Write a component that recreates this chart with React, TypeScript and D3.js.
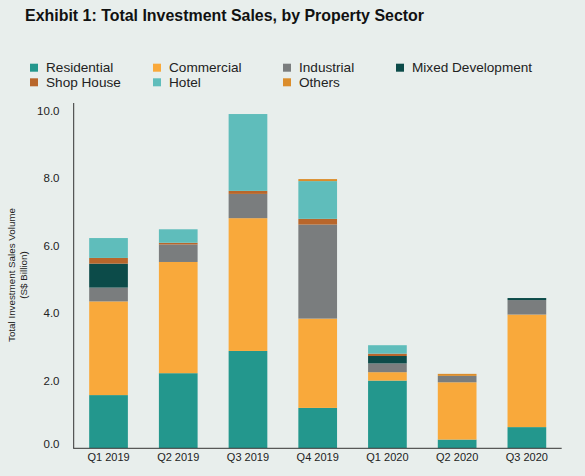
import React from "react";
import * as d3 from "d3";

const categories = ["Q1 2019", "Q2 2019", "Q3 2019", "Q4 2019", "Q1 2020", "Q2 2020", "Q3 2020"];
const seriesNames = ["Residential", "Commercial", "Industrial", "Mixed Development", "Shop House", "Hotel", "Others"];
const residential = [1.57, 2.22, 2.88, 1.19, 2.0, 0.25, 0.62];
const commercial = [2.78, 3.3, 3.94, 2.65, 0.25, 1.7, 3.34];
const industrial = [0.41, 0.52, 0.72, 2.79, 0.26, 0.19, 0.43];
const mixedDevelopment = [0.71, 0, 0, 0, 0.22, 0, 0.06];
const shopHouse = [0.17, 0.05, 0.09, 0.17, 0.07, 0, 0];
const hotel = [0.59, 0.4, 2.28, 1.12, 0.25, 0, 0];
const others = [0, 0, 0, 0.06, 0, 0.06, 0];
const yTicks = [0, 2, 4, 6, 8, 10];

const seriesValues = [residential, commercial, industrial, mixedDevelopment, shopHouse, hotel, others];
const colors = ["#23978d", "#f9a93b", "#7a7d7e", "#0c4b49", "#b8662b", "#5fbdbb", "#db8d2c"];

const W = 585;
const H = 476;
const FONT = "'Liberation Sans', Arial, sans-serif";

export default function App() {
  const rows = categories.map((c, i) => {
    const r: any = { cat: c };
    seriesNames.forEach((s, j) => (r[s] = seriesValues[j][i]));
    return r;
  });
  const stacked = d3.stack<any>().keys(seriesNames)(rows);

  const x = d3.scaleBand<string>().domain(categories).range([73.7, 561.7]).paddingInner(0.445).paddingOuter(0.222);
  const y = d3.scaleLinear().domain([0, 10]).range([448, 111]);

  const legendCols = [30, 153, 283, 396];
  const legendRows = [67.7, 82.3];

  return (
    <svg width={W} height={H} style={{ position: "absolute", left: 0, top: 0, display: "block" }}>
      <rect x={0} y={0} width={W} height={H} fill="#e8eeec" />
      <text x={25} y={20.5} fontFamily={FONT} fontWeight="bold" fontSize={16.5} fill="#111" textLength={399} lengthAdjust="spacingAndGlyphs">
        Exhibit 1: Total Investment Sales, by Property Sector
      </text>
      {seriesNames.map((s, i) => {
        const cx = legendCols[i % 4];
        const cy = legendRows[Math.floor(i / 4)];
        return (
          <g key={s}>
            <rect x={cx} y={cy - 4} width={8} height={8} fill={colors[i]} />
            <text x={cx + 16} y={cy} dy="0.35em" fontFamily={FONT} fontSize={13.6} fill="#222">
              {s}
            </text>
          </g>
        );
      })}
      {stacked.map((layer, i) => (
        <g key={layer.key} fill={colors[i]}>
          {layer.map((d: any, k: number) =>
            d[1] - d[0] > 0 ? (
              <rect key={k} x={x(categories[k])} y={y(d[1])} width={x.bandwidth()} height={y(d[0]) - y(d[1])} />
            ) : null
          )}
        </g>
      ))}
      <line x1={73.7} x2={73.7} y1={103} y2={448.3} stroke="#333" strokeWidth={1} />
      <line x1={73.2} x2={561.7} y1={448.3} y2={448.3} stroke="#333" strokeWidth={1} />
      {yTicks.map((t) => (
        <text key={t} x={59.5} y={y(t) - (t === 0 ? 4 : 0)} dy="0.35em" textAnchor="end" fontFamily={FONT} fontSize={11.5} fill="#222">
          {t.toFixed(1)}
        </text>
      ))}
      {categories.map((c) => (
        <text key={c} x={(x(c) as number) + x.bandwidth() / 2} y={457.5} dy="0.35em" textAnchor="middle" fontFamily={FONT} fontSize={11} fill="#222">
          {c}
        </text>
      ))}
      <g transform="translate(12,275) rotate(-90)">
        <text x={0} y={0} dy="0.35em" textAnchor="middle" fontFamily={FONT} fontSize={9.8} fill="#222">
          Total Investment Sales Volume
        </text>
        <text x={0} y={12} dy="0.35em" textAnchor="middle" fontFamily={FONT} fontSize={9.8} fill="#222">
          (S$ Billion)
        </text>
      </g>
    </svg>
  );
}
